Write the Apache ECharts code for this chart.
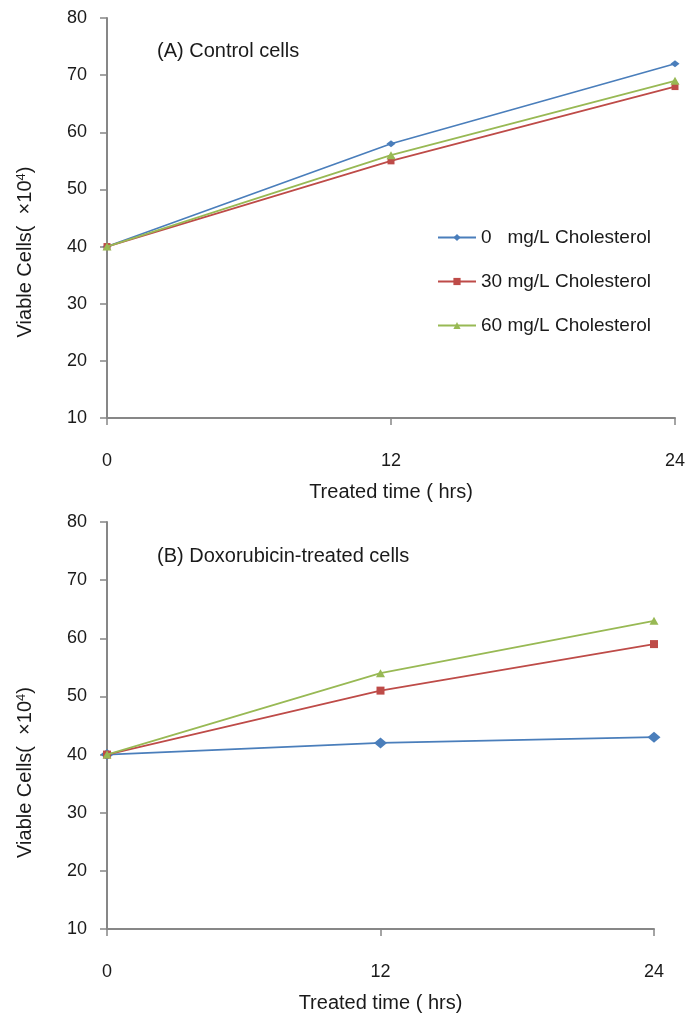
<!DOCTYPE html>
<html>
<head>
<meta charset="utf-8">
<script src="https://cdn.jsdelivr.net/npm/echarts@6/dist/echarts.min.js"></script>
<style>
  html, body { margin: 0; padding: 0; background: #fff; }
  #chart { width: 694px; height: 1024px; }
</style>
</head>
<body>
<div id="chart"></div>
<script>
var hours = [0, 12, 24];
var xTicks = ["0", "12", "24"];
var seriesNames = ["0   mg/L Cholesterol", "30 mg/L Cholesterol", "60 mg/L Cholesterol"];

// (A) control cells
var controlChol0 = [40, 58, 72];
var controlChol30 = [40, 55, 68];
var controlChol60 = [40, 56, 69];

// (B) doxorubicin-treated cells
var doxChol0 = [40, 42, 43];
var doxChol30 = [40, 51, 59];
var doxChol60 = [40, 54, 63];

var colors = ["#4a7ebb", "#be4b48", "#98b954"];
var symbols = ["diamond", "rect", "triangle"];
var axisColor = "#878787";
var textColor = "#1a1a1a";
var fontFamily = "Liberation Sans, Arial, sans-serif";

function pairs(values) {
  return hours.map(function (h, i) {
    return [h, values[i]];
  });
}

function makeXAxis(gridIndex) {
  return {
    type: "value",
    gridIndex: gridIndex,
    min: 0,
    max: 24,
    interval: 12,
    name: "Treated time ( hrs)",
    nameLocation: "middle",
    nameGap: 64,
    nameTextStyle: { fontSize: 20, color: textColor, fontFamily: fontFamily },
    axisLine: { lineStyle: { color: axisColor, width: 2 } },
    axisTick: { show: true, length: 7, lineStyle: { color: axisColor, width: 1.5 } },
    axisLabel: {
      margin: 34,
      fontSize: 18,
      color: textColor,
      fontFamily: fontFamily,
      formatter: function (v) {
        return xTicks[hours.indexOf(v)];
      },
    },
    splitLine: { show: false },
  };
}

// shift = how far the rotated name sits below the middle of the axis
function makeYAxis(gridIndex, shift) {
  return {
    type: "value",
    gridIndex: gridIndex,
    min: 10,
    max: 80,
    interval: 10,
    name: "Viable Cells(  ×10{sup|4})",
    nameLocation: "middle",
    nameGap: 72,
    nameTextStyle: {
      fontSize: 20,
      color: textColor,
      fontFamily: fontFamily,
      padding: [0, shift * 2, 0, 0],
      rich: {
        sup: { fontSize: 13, verticalAlign: "top", lineHeight: 14, color: textColor, fontFamily: fontFamily },
      },
    },
    axisLine: { show: true, lineStyle: { color: axisColor, width: 2 } },
    axisTick: { show: true, length: 7, lineStyle: { color: axisColor, width: 1.5 } },
    axisLabel: { margin: 20, fontSize: 18, color: textColor, fontFamily: fontFamily },
    splitLine: { show: false },
  };
}

function makeSeries(name, values, idx, axisIndex, symbolSize) {
  return {
    name: name,
    type: "line",
    xAxisIndex: axisIndex,
    yAxisIndex: axisIndex,
    data: pairs(values),
    symbol: symbols[idx],
    symbolSize: symbolSize,
    showAllSymbol: true,
    color: colors[idx],
    lineStyle: { width: 1.7, color: colors[idx] },
    itemStyle: { color: colors[idx] },
    z: 3 + idx,
  };
}

var chartDom = document.getElementById("chart");
var myChart = echarts.init(chartDom);
var option;

option = {
  animation: false,
  backgroundColor: "#fff",
  title: [
    {
      text: "(A) Control cells",
      left: 152,
      top: 36,
      textStyle: { fontSize: 20, fontWeight: "normal", color: textColor, fontFamily: fontFamily },
    },
    {
      text: "(B) Doxorubicin-treated cells",
      left: 152,
      top: 541,
      textStyle: { fontSize: 20, fontWeight: "normal", color: textColor, fontFamily: fontFamily },
    },
  ],
  legend: {
    orient: "vertical",
    left: 432,
    top: 222,
    itemGap: 23,
    itemWidth: 38,
    itemHeight: 9,
    data: seriesNames,
    textStyle: { fontSize: 19, lineHeight: 21, color: textColor, fontFamily: fontFamily },
  },
  grid: [
    { left: 107, top: 18, width: 568, height: 400 },
    { left: 107, top: 522, width: 547, height: 407 },
  ],
  xAxis: [makeXAxis(0), makeXAxis(1)],
  yAxis: [makeYAxis(0, 34), makeYAxis(1, 47)],
  series: [
    makeSeries(seriesNames[0], controlChol0, 0, 0, [9, 7]),
    makeSeries(seriesNames[1], controlChol30, 1, 0, 7),
    makeSeries(seriesNames[2], controlChol60, 2, 0, [9, 8]),
    makeSeries(seriesNames[0], doxChol0, 0, 1, [13, 11]),
    makeSeries(seriesNames[1], doxChol30, 1, 1, 8),
    makeSeries(seriesNames[2], doxChol60, 2, 1, [9, 8]),
  ],
};

option && myChart.setOption(option);
</script>
</body>
</html>
